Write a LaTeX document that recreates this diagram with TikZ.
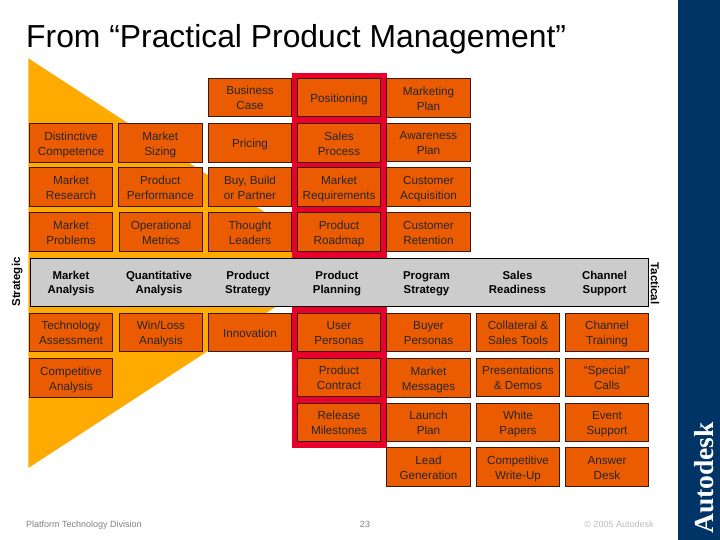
\documentclass[tikz,border=0pt]{standalone}
\usepackage{fontspec}
\setmainfont{Liberation Sans}
\newfontfamily\logofont{Liberation Serif}
\definecolor{cellfill}{HTML}{EB5C00}
\definecolor{celledge}{HTML}{3A1A08}
\definecolor{wedgefill}{HTML}{FFAA00}
\definecolor{framered}{HTML}{E8002D}
\definecolor{bandblue}{HTML}{003366}
\definecolor{bandgray}{HTML}{CCCCCC}
\definecolor{footgray}{HTML}{808080}
\definecolor{copygray}{HTML}{BBBBBB}
\newcommand{\celltext}[2]{\rule{0pt}{14.4pt}#1\\#2\strut}
\newcommand{\headtext}[2]{\rule{0pt}{12.2pt}#1\\#2\strut}
\tikzset{
  cell/.style={draw=celledge, fill=cellfill, line width=0.9pt, minimum width=83.4pt,
    minimum height=38.5pt, inner sep=0pt, outer sep=0pt, align=center,
    font=\fontsize{11.7}{15}\selectfont, text=black!85},
  head/.style={inner sep=0pt, align=center,
    font=\bfseries\fontsize{11.4}{14.2}\selectfont},
  side/.style={inner sep=0pt, font=\bfseries\fontsize{11.5}{13}\selectfont},
  foot/.style={inner sep=0pt, font=\fontsize{9}{10}\selectfont}
}
\begin{document}
\begin{tikzpicture}[x=1pt,y=-1pt]
  \useasboundingbox (0,0) rectangle (720,540);
  \fill[bandblue] (678,0) rectangle (720,540);
  \fill[wedgefill] (28.3,58.3) -- (343,263) -- (28.3,468) -- cycle;
  \fill[framered] (292,73.3) rectangle (386.8,447.7);
  \node[anchor=base west, inner sep=0pt, font=\fontsize{31.85}{34}\selectfont] (title) at (26,48) {From “Practical Product Management”};
  \draw
    (250,97.5) node[cell] (buscase){\celltext{Business}{Case}}
    (339,97.5) node[cell] (position){\rule{0pt}{14.4pt}Positioning\strut}
    (428.5,97.8) node[cell] (mktplan){\celltext{Marketing}{Plan}}
    (71,142.8) node[cell] (distinct){\celltext{Distinctive}{Competence}}
    (160.3,142.8) node[cell] (sizing){\celltext{Market}{Sizing}}
    (250,142.8) node[cell] (pricing){\rule{0pt}{14.4pt}Pricing\strut}
    (339,142.8) node[cell] (salesproc){\celltext{Sales}{Process}}
    (428.5,142.3) node[cell] (awareness){\celltext{Awareness}{Plan}}
    (71,186.8) node[cell] (research){\celltext{Market}{Research}}
    (160.3,186.8) node[cell] (perform){\celltext{Product}{Performance}}
    (250,186.8) node[cell] (buybuild){\celltext{Buy, Build}{or Partner}}
    (339,186.8) node[cell] (require){\celltext{Market}{Requirements}}
    (428.5,186.8) node[cell] (acquire){\celltext{Customer}{Acquisition}}
    (71,231.8) node[cell] (problems){\celltext{Market}{Problems}}
    (161,231.8) node[cell] (metrics){\celltext{Operational}{Metrics}}
    (250,231.8) node[cell] (leaders){\celltext{Thought}{Leaders}}
    (339,231.8) node[cell] (roadmap){\celltext{Product}{Roadmap}}
    (428.5,231.8) node[cell] (retain){\celltext{Customer}{Retention}};
  \node[draw=black, fill=bandgray, line width=0.9pt, minimum width=618.4pt, minimum height=48pt, inner sep=0pt, outer sep=0pt] (band) at (339.5,282.3) {};
  \draw
    (71,282.8) node[head] (mktanalysis){\headtext{Market}{Analysis}}
    (159,282.8) node[head] (quant){\headtext{Quantitative}{Analysis}}
    (248,282.8) node[head] (strategy){\headtext{Product}{Strategy}}
    (337,282.8) node[head] (planning){\headtext{Product}{Planning}}
    (426.5,282.8) node[head] (program){\headtext{Program}{Strategy}}
    (517.5,282.8) node[head] (readiness){\headtext{Sales}{Readiness}}
    (604.5,282.8) node[head] (support){\headtext{Channel}{Support}};
  \draw
    (71,332.5) node[cell] (techassess){\celltext{Technology}{Assessment}}
    (161,332.5) node[cell] (winloss){\celltext{Win/Loss}{Analysis}}
    (250,332.5) node[cell] (innovate){\rule{0pt}{14.4pt}Innovation\strut}
    (339,332.5) node[cell] (userper){\celltext{User}{Personas}}
    (428.5,332.5) node[cell] (buyerper){\celltext{Buyer}{Personas}}
    (518,332.5) node[cell] (collateral){\celltext{Collateral \&}{Sales Tools}}
    (607,332.5) node[cell] (chantrain){\celltext{Channel}{Training}}
    (71,377.8) node[cell] (compet){\celltext{Competitive}{Analysis}}
    (339,377.5) node[cell] (contract){\celltext{Product}{Contract}}
    (428.5,377.8) node[cell] (messages){\celltext{Market}{Messages}}
    (518,377.5) node[cell] (demos){\celltext{Presentations}{\& Demos}}
    (607,377.5) node[cell] (calls){\celltext{“Special”}{Calls}}
    (339,422.5) node[cell] (release){\celltext{Release}{Milestones}}
    (428.5,422.5) node[cell] (launch){\celltext{Launch}{Plan}}
    (518,422.5) node[cell] (papers){\celltext{White}{Papers}}
    (607,422.5) node[cell] (event){\celltext{Event}{Support}}
    (428.5,466.8) node[cell] (leadgen){\celltext{Lead}{Generation}}
    (518,466.8) node[cell] (writeup){\celltext{Competitive}{Write-Up}}
    (607,466.8) node[cell] (answer){\celltext{Answer}{Desk}};
  \node[side, rotate=90] (strategic) at (17.3,282) {Strategic};
  \node[side, rotate=-90] (tactical) at (655,283.5) {Tactical};
  \node[foot, text=footgray, anchor=base west] (division) at (26,527) {Platform Technology Division};
  \node[foot, text=footgray] (pagenum) at (365,524) {23};
  \node[foot, text=copygray] (copyright) at (619,524) {© 2005 Autodesk};
  \node[rotate=90, text=white, inner sep=0pt, font=\logofont\bfseries\fontsize{27.5}{30}\selectfont] (logo) at (704,478) {Autodesk};
\end{tikzpicture}
\end{document}
